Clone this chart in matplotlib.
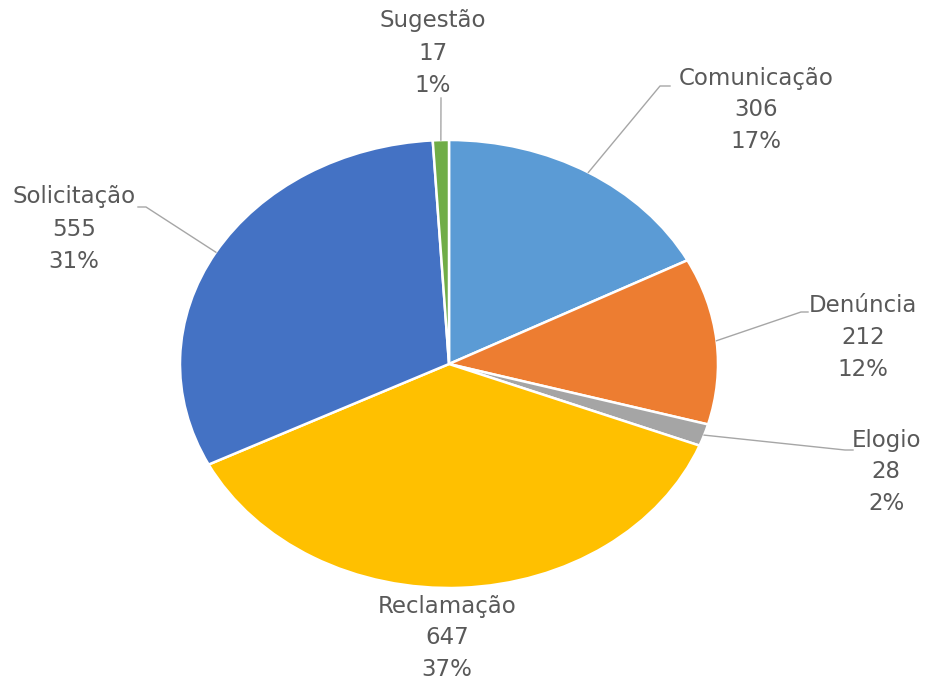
import matplotlib.pyplot as plt
import numpy as np

categories = ["Comunicação", "Denúncia", "Elogio", "Reclamação", "Solicitação", "Sugestão"]
values = [306, 212, 28, 647, 555, 17]
percent_labels = ["17%", "12%", "2%", "37%", "31%", "1%"]
colors = ["#5B9BD5", "#ED7D31", "#A5A5A5", "#FFC000", "#4472C4", "#70AD47"]

# label block centres and leader-line elbows, in pixels of the 927x681 figure
label_px = {
    "Comunicação": (756, 110),
    "Denúncia": (863, 337),
    "Elogio": (886, 472),
    "Reclamação": (447, 638),
    "Solicitação": (74, 229),
    "Sugestão": (433, 53),
}
leader_px = {
    "Comunicação": [(660, 86), (670, 86)],
    "Denúncia": [(801, 312), (808, 312)],
    "Elogio": [(845, 450), (853, 450)],
    "Solicitação": [(146, 207), (138, 207)],
    "Sugestão": [(441, 98)],
}

W, H = 927, 681
cx, cy, rx, ry = 449, 364, 269, 224

fig = plt.figure(figsize=(W / 100, H / 100), dpi=100)
ax = fig.add_axes([(cx - rx) / W, (H - cy - ry) / H, 2 * rx / W, 2 * ry / H])

wedges, _ = ax.pie(
    values,
    colors=colors,
    startangle=90,
    counterclock=False,
    radius=1,
    wedgeprops=dict(edgecolor="white", linewidth=1.8),
)
ax.set_aspect("auto")
ax.set_xlim(-1, 1)
ax.set_ylim(-1, 1)
ax.axis("off")


def to_data(p):
    return (p[0] - cx) / rx, (cy - p[1]) / ry


for w, name, val, pct in zip(wedges, categories, values, percent_labels):
    lx, ly = to_data(label_px[name])
    ax.text(lx, ly, f"{name}\n{val}\n{pct}", ha="center", va="center",
            fontsize=16.5, color="#595959", linespacing=1.5,
            family="DejaVu Sans", clip_on=False)
    if name in leader_px:
        mid = np.deg2rad((w.theta1 + w.theta2) / 2)
        pts = [(np.cos(mid), np.sin(mid))] + [to_data(p) for p in leader_px[name]]
        xs, ys = zip(*pts)
        ax.plot(xs, ys, color="#A6A6A6", linewidth=1.0, clip_on=False)

fig.savefig("out.png", dpi=100)
